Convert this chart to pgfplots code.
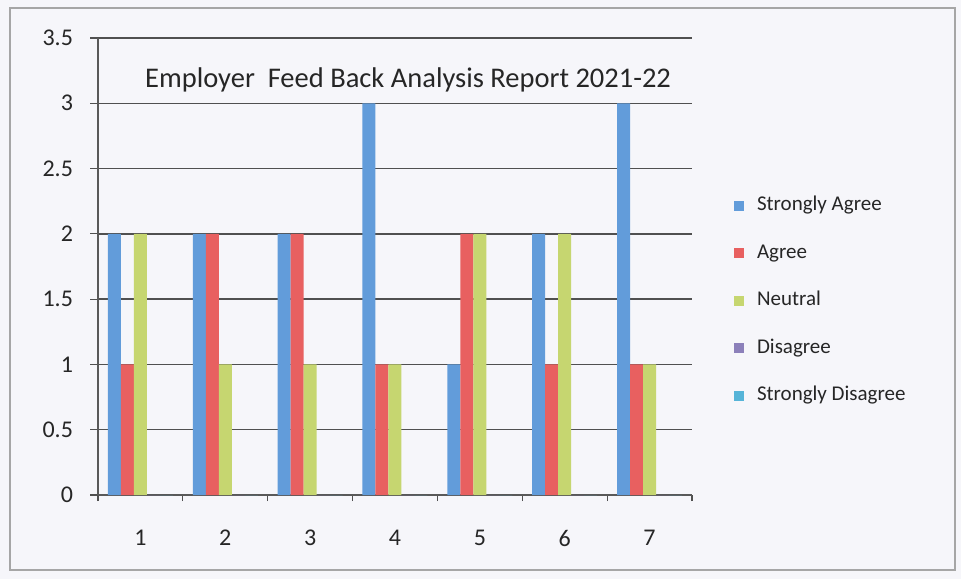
\documentclass[border=0pt]{standalone}
\usepackage{fontspec}
\setmainfont{Carlito}
\usepackage{pgfplots}
\pgfplotsset{compat=1.18}
\definecolor{sa}{RGB}{98,156,218}
\definecolor{ag}{RGB}{232,96,96}
\definecolor{ne}{RGB}{198,214,112}
\definecolor{di}{RGB}{140,128,186}
\definecolor{sd}{RGB}{86,180,216}
\definecolor{bg}{RGB}{246,246,250}
\definecolor{gridc}{RGB}{80,80,80}
\pgfplotsset{sq/.style={legend image code/.code={\fill[##1] (0pt,-2.5pt) rectangle (5pt,2.5pt);}}}
\begin{document}
\begin{tikzpicture}
\fill[bg] (0pt,0pt) rectangle (480.5pt,289.5pt);
\draw[gray!70, line width=0.6pt] (5pt,4.5pt) rectangle (477.5pt,285.5pt);
\begin{axis}[
  at={(49pt,42pt)}, anchor=south west,
  scale only axis, width=297pt, height=228.5pt,
  xmin=0.5, xmax=7.5, ymin=0, ymax=3.5,
  ybar=0pt, bar width=6.5pt,
  xtick={1,2,3,4,5,6,7},
  minor xtick={0.5,1.5,2.5,3.5,4.5,5.5,6.5,7.5},
  ytick={0,0.5,1,1.5,2,2.5,3,3.5},
  major x tick style={draw=none},
  minor tick length=3pt, major tick length=4pt,
  tick align=outside,
  tick style={gridc, line width=0.6pt},
  ymajorgrids, grid style={gridc, line width=0.7pt},
  axis x line*=bottom, axis y line*=left,
  axis line style={gray!70!black, line width=0.6pt},
  /pgf/number format/assume math mode=true,
  ticklabel style={font=\fontsize{12}{12}\selectfont, text=black!85},
  xticklabel style={yshift=-10pt},
  yticklabel style={xshift=-5pt},
  legend cell align=left,
  legend style={at={(rel axis cs:1.06,0.665)}, anchor=north west, draw=none, fill=none,
    font=\fontsize{10.5}{11}\selectfont, text=black!85,
    nodes={inner sep=0pt, text height=7.5pt, text depth=2.5pt},
    row sep=13.75pt, column sep=6.5pt},
]
\addplot[fill=sa, draw=none, sq] coordinates {(1,2) (2,2) (3,2) (4,3) (5,1) (6,2) (7,3)};
\addplot[fill=ag, draw=none, sq] coordinates {(1,1) (2,2) (3,2) (4,1) (5,2) (6,1) (7,1)};
\addplot[fill=ne, draw=none, sq] coordinates {(1,2) (2,1) (3,1) (4,1) (5,2) (6,2) (7,1)};
\addplot[fill=di, draw=none, sq] coordinates {(1,0) (2,0) (3,0) (4,0) (5,0) (6,0) (7,0)};
\addplot[fill=sd, draw=none, sq] coordinates {(1,0) (2,0) (3,0) (4,0) (5,0) (6,0) (7,0)};
\legend{Strongly Agree, Agree, Neutral, Disagree, Strongly Disagree}
\node[font=\fontsize{14.25}{15}\selectfont, text=black!85] at (rel axis cs:0.522,0.908) {Employer\ \ Feed Back Analysis Report 2021-22};
\end{axis}
\end{tikzpicture}
\end{document}
